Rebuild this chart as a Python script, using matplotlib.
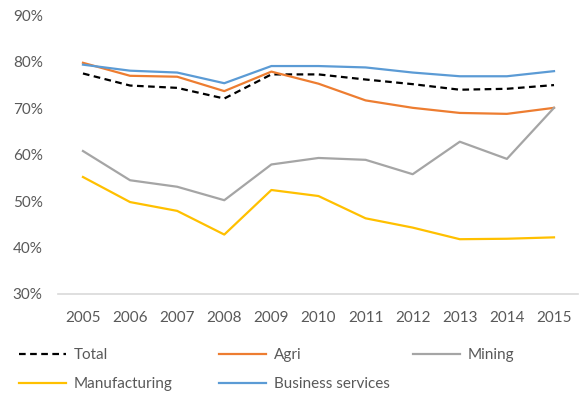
import numpy as np
import matplotlib.pyplot as plt
from matplotlib.lines import Line2D
from matplotlib.ticker import PercentFormatter

years = ['2005', '2006', '2007', '2008', '2009', '2010',
         '2011', '2012', '2013', '2014', '2015']

total = [77.5, 74.9, 74.4, 72.1, 77.3, 77.3, 76.2, 75.2, 74.0, 74.2, 75.0]
agri = [79.8, 77.0, 76.8, 73.7, 77.9, 75.3, 71.7, 70.1, 69.0, 68.8, 70.1]
mining = [60.8, 54.5, 53.1, 50.2, 57.9, 59.3, 58.9, 55.8, 62.8, 59.1, 70.1]
manufacturing = [55.2, 49.8, 47.9, 42.8, 52.4, 51.1, 46.3, 44.3, 41.8, 41.9, 42.2]
business = [79.4, 78.1, 77.7, 75.4, 79.1, 79.1, 78.8, 77.7, 76.9, 76.9, 78.0]

plt.rcParams['font.family'] = ['Lato', 'DejaVu Sans']
grey_text = '#595959'

fig = plt.figure(figsize=(5.8, 3.96), dpi=100)
ax = fig.add_axes([0.1, 0.2576, 0.8966, 0.7034])

x = np.arange(len(years))
lw = 1.6
series = [
    ('Total', total, 'black', (0, (3, 2))),
    ('Agri', agri, '#ED7D31', '-'),
    ('Mining', mining, '#A5A5A5', '-'),
    ('Manufacturing', manufacturing, '#FFC000', '-'),
    ('Business services', business, '#5B9BD5', '-'),
]
handles = {}
for name, vals, col, ls in series:
    ax.plot(x, vals, color=col, lw=lw, linestyle=ls)
    handles[name] = Line2D([], [], color=col, lw=lw, linestyle=ls)

ax.set_xlim(-0.53, 10.51)
ax.set_ylim(30, 90)
ax.set_xticks(x)
ax.set_xticklabels(years)
ax.set_yticks(np.arange(30, 91, 10))
ax.yaxis.set_major_formatter(PercentFormatter(decimals=0))

for side in ['top', 'right', 'left']:
    ax.spines[side].set_visible(False)
ax.spines['bottom'].set_color('#D9D9D9')
ax.spines['bottom'].set_linewidth(1.2)
ax.tick_params(axis='both', length=0, labelsize=11, colors=grey_text)
ax.tick_params(axis='y', pad=11)
ax.tick_params(axis='x', pad=12)

# three one-column legends laid out as a grid under the axes
groups = [(['Total', 'Manufacturing'], 0.032),
          (['Agri', 'Business services'], 0.377),
          (['Mining'], 0.712)]
for names, xpos in groups:
    leg = fig.legend([handles[n] for n in names], names, loc='upper left',
                     bbox_to_anchor=(xpos, 0.121), frameon=False, fontsize=11,
                     handlelength=3.1, handletextpad=0.5, labelspacing=0.97,
                     borderaxespad=0, borderpad=0)
    for t in leg.get_texts():
        t.set_color(grey_text)

fig.savefig('out.png', dpi=100)
